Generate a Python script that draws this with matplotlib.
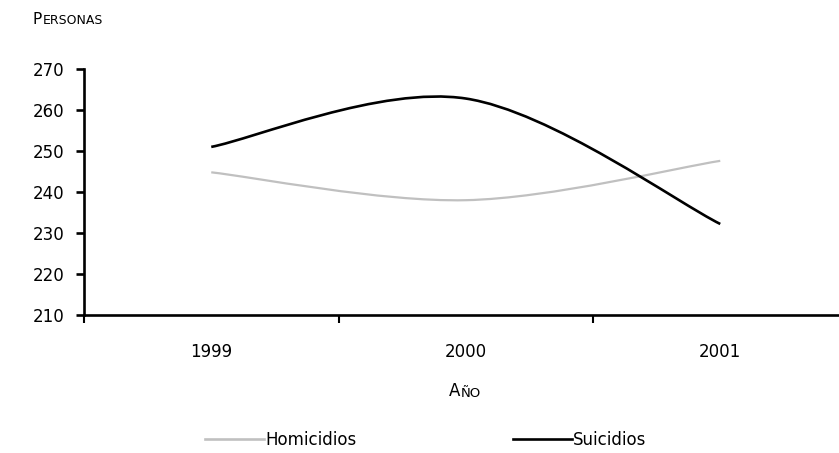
import numpy as np
import matplotlib.pyplot as plt
from matplotlib.path import Path
from matplotlib.patches import PathPatch
from matplotlib.lines import Line2D

years = ['1999', '2000', '2001']
homicidios = [244.8, 238.0, 247.6]
suicidios = [251.0, 262.8, 232.2]
y_ticks = [210, 220, 230, 240, 250, 260, 270]

GREY = '#c0c0c0'
BLACK = '#000000'


def smooth_path(xs, ys):
    # curva suavizada tipo Excel (Catmull-Rom como Bezier cubica)
    pts = np.column_stack([xs, ys]).astype(float)
    n = len(pts)
    verts = [pts[0]]
    codes = [Path.MOVETO]
    for i in range(n - 1):
        p_prev = pts[max(i - 1, 0)]
        p0 = pts[i]
        p1 = pts[i + 1]
        p_next = pts[min(i + 2, n - 1)]
        c1 = p0 + (p1 - p_prev) / 6.0
        c2 = p1 - (p_next - p0) / 6.0
        verts += [c1, c2, p1]
        codes += [Path.CURVE4] * 3
    return Path(verts, codes)


def main():
    plt.rcParams['font.family'] = ['DejaVu Sans']
    fig = plt.figure(figsize=(8.39, 4.53), dpi=100)
    W, H = 839, 453
    ax = fig.add_axes([84 / W, (H - 315) / H, 755 / W, 246 / H])

    x = np.arange(len(years))
    for vals, col, lw in [(homicidios, GREY, 1.6), (suicidios, BLACK, 1.9)]:
        patch = PathPatch(smooth_path(x, vals), facecolor='none', edgecolor=col,
                          lw=lw, capstyle='butt', joinstyle='round')
        ax.add_patch(patch)

    ax.set_xlim(-0.5, -0.5 + 755 / 254.5)
    ax.set_ylim(210, 270)

    ax.spines['top'].set_visible(False)
    ax.spines['right'].set_visible(False)
    for s in ['left', 'bottom']:
        ax.spines[s].set_linewidth(1.9)

    ax.set_yticks(y_ticks)
    ax.tick_params(axis='y', direction='out', length=6, width=1.9, labelsize=12, pad=8)

    ax.set_xticks([-0.5, 0.5, 1.5])
    ax.set_xticklabels([])
    ax.set_xticks(x, minor=True)
    ax.set_xticklabels(years, minor=True)
    ax.tick_params(axis='x', which='major', direction='out', length=6, width=1.5)
    ax.tick_params(axis='x', which='minor', length=0, labelsize=12, pad=20)

    # titulo del eje Y en versalitas
    t1 = fig.text(33 / W, 1 - 19 / H, 'P', fontsize=11, va='center', ha='left')
    ax.annotate('ERSONAS', xy=(1, 0), xycoords=t1, fontsize=9, va='bottom', ha='left')

    # titulo del eje X en versalitas
    t2 = fig.text(449 / W, 1 - 391 / H, 'A', fontsize=12, va='center', ha='left')
    ax.annotate('ÑO', xy=(1, 0), xycoords=t2, fontsize=9.5, va='bottom', ha='left')

    handles = [Line2D([], [], color=GREY, lw=1.9), Line2D([], [], color=BLACK, lw=1.9)]
    fig.legend(handles, ['Homicidios', 'Suicidios'], loc='center',
               bbox_to_anchor=(426 / W, 1 - 440 / H), ncol=2, frameon=False,
               fontsize=12, handlelength=3.5, handletextpad=0.1, columnspacing=9.4)

    fig.savefig('out.png', dpi=100)


if __name__ == '__main__':
    main()
